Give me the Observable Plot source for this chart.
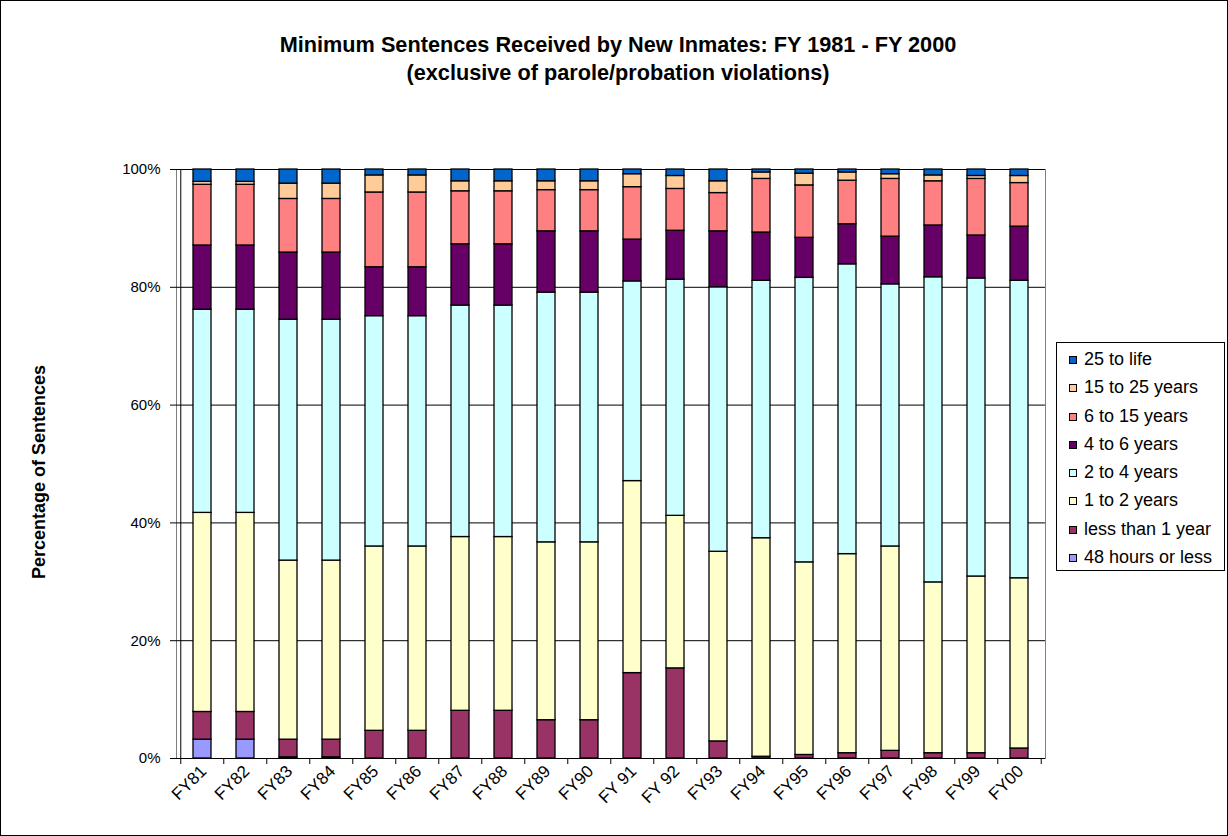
<!DOCTYPE html>
<html>
<head>
<meta charset="utf-8">
<script src="https://cdn.jsdelivr.net/npm/d3@7"></script>
<script src="https://cdn.jsdelivr.net/npm/@observablehq/plot@0.6"></script>
<style>
  html, body { margin: 0; padding: 0; background: #fff; }
  #chart { position: relative; width: 1228px; height: 836px; font-family: "Liberation Sans", Arial, sans-serif; overflow: hidden; }
  #chart svg { position: absolute; left: 0; top: 0; }
  #frame { position: absolute; left: 0; top: 0; width: 1228px; height: 836px; box-sizing: border-box; border: 1px solid #000; pointer-events: none; }
  #title { position: absolute; left: 0; top: 31px; width: 1236px; text-align: center; font-weight: bold; font-size: 21.7px; line-height: 28px; color: #000; }
  #ytitle { position: absolute; left: 39px; top: 472px; transform: translate(-50%, -50%) rotate(-90deg); white-space: nowrap; font-weight: bold; font-size: 18px; }
  #legend { position: absolute; left: 1056px; top: 342px; width: 169px; height: 229px; box-sizing: border-box; border: 1px solid #000; background: #fff; padding-top: 2px; }
  .item { position: relative; height: 28.3px; }
  .sw { position: absolute; left: 12px; top: 11px; width: 8px; height: 8px; box-sizing: border-box; border: 1px solid #000; }
  .lab { position: absolute; left: 27px; top: 4px; font-size: 18px; line-height: 20px; white-space: nowrap; }
</style>
</head>
<body>
<div id="chart">
  <div id="title">Minimum Sentences Received by New Inmates: FY 1981 - FY 2000<br>(exclusive of parole/probation violations)</div>
  <div id="ytitle">Percentage of Sentences</div>
  <div id="legend"></div>
  <div id="frame"></div>
</div>
<script>
// Categories (fiscal years)
const categories = ["FY81","FY82","FY83","FY84","FY85","FY86","FY87","FY88","FY89","FY90","FY 91","FY 92","FY93","FY94","FY95","FY96","FY97","FY98","FY99","FY00"];

// Series names, bottom to top of the stack
const seriesNames = ["48 hours or less","less than 1 year","1 to 2 years","2 to 4 years","4 to 6 years","6 to 15 years","15 to 25 years","25 to life"];
const seriesColors = ["#9999FF","#993366","#FFFFCC","#CCFFFF","#660066","#FF8080","#FFCC99","#0066CC"];

// Percent of sentences per category
const hours48      = [3.2,3.2,0.2,0.2,0,0,0,0,0,0,0,0,0,0,0,0,0,0,0,0];
const lessThan1    = [4.7,4.7,3.0,3.0,4.7,4.7,8.1,8.1,6.5,6.5,14.5,15.3,2.9,0.3,0.6,0.9,1.3,0.9,0.9,1.7];
const oneToTwo     = [33.8,33.8,30.4,30.4,31.3,31.3,29.5,29.5,30.2,30.2,32.6,25.9,32.2,37.1,32.7,33.8,34.7,29.0,30.0,28.9];
const twoToFour    = [34.5,34.5,40.9,40.9,39.1,39.1,39.3,39.3,42.4,42.4,33.9,40.1,44.9,43.7,48.3,49.2,44.5,51.8,50.6,50.5];
const fourToSix    = [10.9,10.9,11.4,11.4,8.3,8.3,10.4,10.4,10.4,10.4,7.1,8.3,9.5,8.2,6.8,6.8,8.1,8.8,7.3,9.2];
const sixToFifteen = [10.3,10.3,9.1,9.1,12.7,12.7,9.0,9.0,7.0,7.0,8.9,7.1,6.5,9.1,8.9,7.4,9.8,7.5,9.6,7.4];
const fifteenTo25  = [0.5,0.5,2.6,2.6,2.9,2.9,1.7,1.7,1.5,1.5,2.2,2.2,2.0,1.1,2.0,1.4,0.8,1.0,0.5,1.2];
const to25Life     = [2.1,2.1,2.4,2.4,1.0,1.0,2.0,2.0,2.0,2.0,0.8,1.1,2.0,0.5,0.7,0.5,0.8,1.0,1.1,1.1];

const yTicks = [0, 0.2, 0.4, 0.6, 0.8, 1.0];

const seriesValues = [hours48, lessThan1, oneToTwo, twoToFour, fourToSix, sixToFifteen, fifteenTo25, to25Life];
const rows = [];
categories.forEach((c, i) => {
  seriesNames.forEach((s, j) => rows.push({year: c, series: s, value: seriesValues[j][i]}));
});

const W = 1228, H = 836;
const mL = 176, mR = 183, mT = 169, mB = 78;
const step = (W - mL - mR) / categories.length;

const plot = Plot.plot({
  width: W,
  height: H,
  marginLeft: mL,
  marginRight: mR,
  marginTop: mT,
  marginBottom: mB,
  style: {fontFamily: '"Liberation Sans", Arial, sans-serif', color: "#000", background: "transparent"},
  x: {domain: categories, type: "band", paddingInner: 0.586, paddingOuter: 0.293, label: null},
  y: {domain: [0, 1], label: null},
  color: {domain: seriesNames, range: seriesColors},
  marks: [
    Plot.frame({stroke: "#808080"}),
    Plot.ruleY(yTicks, {stroke: "#000", strokeWidth: 1}),
    Plot.barY(rows, Plot.stackY({
      x: "year", y: "value", fill: "series", order: seriesNames, offset: "normalize",
      stroke: "#000", strokeWidth: 1.3
    })),
    // left axis line
    Plot.ruleX([categories[0]], {y1: 0, y2: 1, dx: -step / 2, stroke: "#000"}),
    // category boundary ticks
    Plot.ruleX(categories, {y1: 0, y2: 0, dx: -step / 2, insetBottom: -6, stroke: "#000"}),
    Plot.ruleX([categories[categories.length - 1]], {y1: 0, y2: 0, dx: step / 2, insetBottom: -6, stroke: "#000"}),
    Plot.axisY({ticks: yTicks, tickFormat: d3.format(".0%"), tickSize: 6, tickPadding: 10, fontSize: 15, label: null}),
    Plot.axisX({tickRotate: -45, tickSize: 0, tickPadding: 10, dx: 1, fontSize: 17, label: null})
  ]
});
document.getElementById("chart").insertBefore(plot, document.getElementById("title"));

// Legend (top to bottom = reverse stack order)
const legend = document.getElementById("legend");
seriesNames.map((s, j) => ({s, c: seriesColors[j]})).reverse().forEach(({s, c}) => {
  const it = document.createElement("div");
  it.className = "item";
  const sw = document.createElement("div");
  sw.className = "sw";
  sw.style.background = c;
  const lab = document.createElement("div");
  lab.className = "lab";
  lab.textContent = s;
  it.appendChild(sw);
  it.appendChild(lab);
  legend.appendChild(it);
});
</script>
</body>
</html>
